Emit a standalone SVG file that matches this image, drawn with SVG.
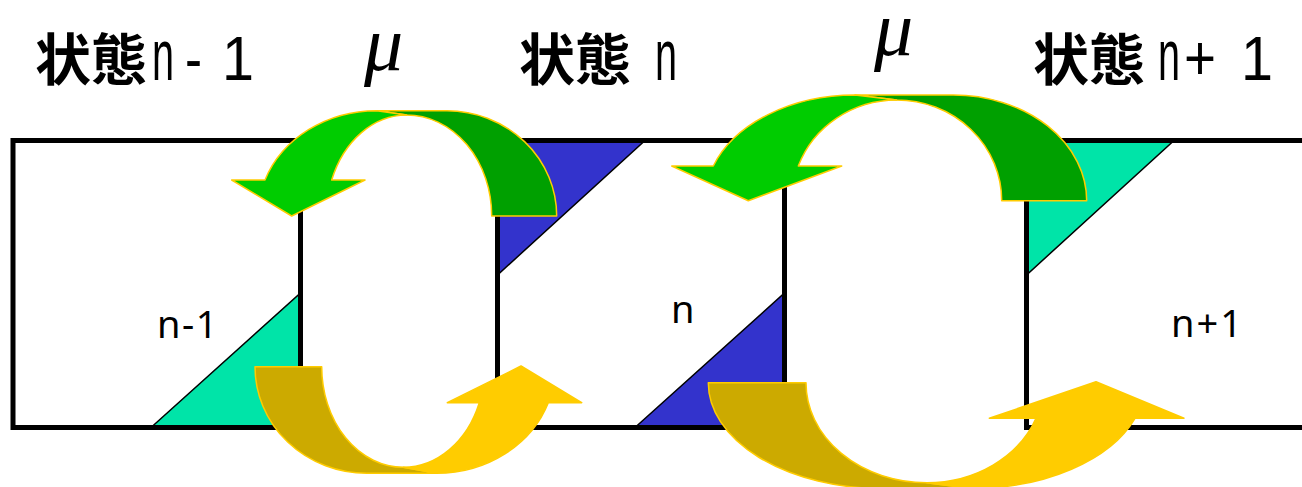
<svg xmlns="http://www.w3.org/2000/svg" width="1302" height="487" viewBox="0 0 1302 487">
<style>
.box{fill:none;stroke:#000;stroke-width:5}
.bg{fill:#fff}
.tri{stroke:#000;stroke-width:1.5;stroke-linejoin:miter}
.teal{fill:#00E4A8}
.blue{fill:#3333CC}
.lbl{font-family:"Noto Sans","Open Sans",sans-serif;font-size:38px;fill:#000}
.hdr{font-family:"Noto Sans CJK JP","Noto Sans CJK SC",sans-serif;font-weight:bold;font-size:56px;fill:#000}
.lat{font-family:"Liberation Sans","DejaVu Sans",sans-serif;font-weight:normal;font-size:63px}
.ln{font-size:72px}
.mu{font-family:"Liberation Serif","DejaVu Serif",serif;font-style:italic;font-size:78px;fill:#000}
.gl{fill:#00CC00;stroke:#FFCC00;stroke-width:1.5;stroke-linejoin:round}
.gd{fill:#00A000;stroke:#FFCC00;stroke-width:1.5;stroke-linejoin:round}
.yl{fill:#FFCC00;stroke:#FFCC00;stroke-width:1.5;stroke-linejoin:round}
.yd{fill:#CCAA00;stroke:#FFCC00;stroke-width:1.5;stroke-linejoin:round}
</style>
<rect width="1302" height="487" fill="#fff"/>
<g id="state-n-minus-1">
<rect class="bg" x="13" y="140.5" width="287.5" height="287"/>
<polygon class="tri teal" points="151,427.5 300.5,293 300.5,427.5"/>
<rect class="box" x="13" y="140.5" width="287.5" height="287"/>
<text class="lbl" x="157" y="338" letter-spacing="1.5">n-1</text>
</g>
<g id="state-n">
<rect class="bg" x="497.5" y="140.5" width="287" height="287"/>
<polygon class="tri blue" points="497.5,140.5 645,140.5 497.5,275"/>
<polygon class="tri blue" points="635,427.5 784.5,293 784.5,427.5"/>
<rect class="box" x="497.5" y="140.5" width="287" height="287"/>
<text class="lbl" x="671" y="323">n</text>
</g>
<g id="state-n-plus-1">
<rect class="bg" x="1026.5" y="140.5" width="290" height="287"/>
<polygon class="tri teal" points="1026.5,140.5 1174,140.5 1026.5,275"/>
<rect class="box" x="1026.5" y="140.5" width="290" height="287"/>
<text class="lbl" x="1171" y="337" letter-spacing="2">n+1</text>
</g>
<g id="headers">
<text class="hdr" x="35" y="80">状態<tspan class="lat ln" x="152" textLength="22" lengthAdjust="spacingAndGlyphs">n</tspan><tspan class="lat" x="185" textLength="17" lengthAdjust="spacingAndGlyphs">-</tspan><tspan class="lat" x="222" textLength="32" lengthAdjust="spacingAndGlyphs">1</tspan></text>
<text class="hdr" x="519" y="80">状態<tspan class="lat ln" x="655" textLength="22" lengthAdjust="spacingAndGlyphs">n</tspan></text>
<text class="hdr" x="1033" y="80">状態<tspan class="lat ln" x="1158" textLength="22" lengthAdjust="spacingAndGlyphs">n</tspan><tspan class="lat" x="1184" textLength="32" lengthAdjust="spacingAndGlyphs">+</tspan><tspan class="lat" x="1241" textLength="32" lengthAdjust="spacingAndGlyphs">1</tspan></text>
<text class="mu" x="364" y="70">μ</text>
<text class="mu" x="874" y="55">μ</text>
</g>
<g id="connectors">
<path class="gd" d="M556.7,216 A110,105.3 0 0 0 447,110.7 L376.7,110.7 L406.7,115 A85,101 0 0 1 491.7,216 Z"/>
<path class="gl" d="M406.7,115 A80.3,101 0 0 0 331.7,180 L365,180 L291.7,216 L231.7,180 L265,180 A118.8,105.3 0 0 1 376.7,110.7 Z"/>
<path class="gd" d="M1086.7,200.7 A133.4,105.7 0 0 0 953.3,95 L855,95 L896.7,100 A105,100.7 0 0 1 1001.7,200.7 Z"/>
<path class="gl" d="M896.7,100 A104.8,100.7 0 0 0 798.3,166 L841.7,166 L748.3,200.7 L671.7,166 L713.3,166 A150,105.7 0 0 1 855,95 Z"/>
<path class="yd" d="M255,366.7 A111.7,106.6 0 0 0 366.7,473.3 L436.7,473.3 L403.3,467.3 A81.6,100.6 0 0 1 321.7,366.7 Z"/>
<path class="yl" d="M403.3,467.3 A81.4,100.6 0 0 0 479.3,402.7 L447.3,402.7 L521,366 L581.7,402.7 L548.3,402.7 A118.6,106.6 0 0 1 436.7,473.3 Z"/>
<path class="yd" d="M708.3,382.7 A173.8,105.8 0 0 0 882,488.5 L971.3,488.5 L926.7,482.7 A120.7,100 0 0 1 806,382.7 Z"/>
<path class="yl" d="M926.7,482.7 A117,100 0 0 0 1036,418.3 L989.3,418.3 L1096,381.7 L1184,418.3 L1135,418.3 A173.8,105.8 0 0 1 971.3,488.5 Z"/>
</g>
</svg>
